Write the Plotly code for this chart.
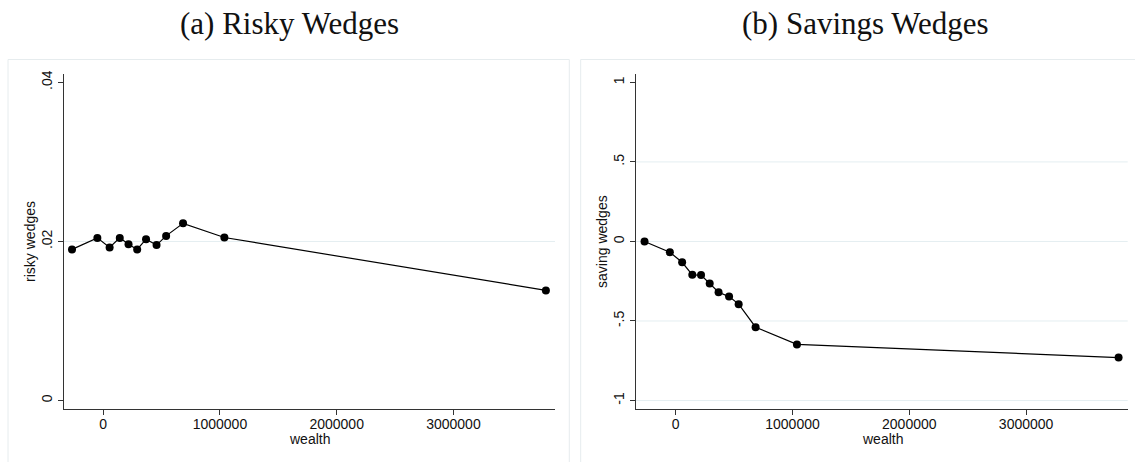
import plotly.graph_objects as go

# ---- data ----
wealth = [-267000, -50000, 55000, 142000, 217000, 291000, 367000, 457000, 539000, 684000, 1038000, 3792000]
risky_wedges = [0.0190, 0.02045, 0.01925, 0.02045, 0.01966, 0.0190, 0.02029, 0.01954, 0.0207, 0.02228, 0.0205, 0.01385]
saving_wedges = [0.0, -0.068, -0.131, -0.2095, -0.2116, -0.2635, -0.3195, -0.3465, -0.394, -0.539, -0.647, -0.730]

x_ticks = [0, 1000000, 2000000, 3000000]
x_ticklabels = ["0", "1000000", "2000000", "3000000"]
risky_ticks = [0, 0.02, 0.04]
risky_ticklabels = ["0", ".02", ".04"]
saving_ticks = [-1, -0.5, 0, 0.5, 1]
saving_ticklabels = ["-1", "-.5", "0", ".5", "1"]
risky_grid = [0.02]
saving_grid = [-1, -0.5, 0, 0.5]

titles = ["(a) Risky Wedges", "(b) Savings Wedges"]
ytitles = ["risky wedges", "saving wedges"]
xtitle = "wealth"

W, H = 1135, 462
def px(x):
    return x / W
def py(y):
    return 1 - y / H

fig = go.Figure()
fig.add_trace(go.Scatter(x=wealth, y=risky_wedges, mode="lines+markers",
                         line=dict(color="black", width=1.2),
                         marker=dict(color="black", size=8),
                         xaxis="x", yaxis="y", showlegend=False))
fig.add_trace(go.Scatter(x=wealth, y=saving_wedges, mode="lines+markers",
                         line=dict(color="black", width=1.2),
                         marker=dict(color="black", size=8),
                         xaxis="x2", yaxis="y2", showlegend=False))

tickfont = dict(family="Liberation Sans, Arial, sans-serif", size=14, color="#111")
axis_common = dict(showline=True, linecolor="#333", linewidth=1, ticks="outside",
                   ticklen=5, tickwidth=1, tickcolor="#333", showgrid=False,
                   zeroline=False, tickfont=tickfont)

x_range = [-340000, 3870000]
fig.update_layout(
    width=W, height=H, margin=dict(l=0, r=0, t=0, b=0),
    paper_bgcolor="white", plot_bgcolor="white",
    xaxis=dict(domain=[px(63.5), px(555)], range=x_range, tickvals=x_ticks,
               ticktext=x_ticklabels, anchor="y", ticklabelstandoff=-3, **axis_common),
    yaxis=dict(domain=[py(409), py(70.7)], range=[-0.00112, 0.04104], tickvals=risky_ticks,
               ticktext=risky_ticklabels, tickangle=-90, anchor="x", **axis_common),
    xaxis2=dict(domain=[px(636), px(1127.7)], range=x_range, tickvals=x_ticks,
                ticktext=x_ticklabels, anchor="y2", ticklabelstandoff=-3, **axis_common),
    yaxis2=dict(domain=[py(409), py(70.7)], range=[-1.056, 1.052], tickvals=saving_ticks,
                ticktext=saving_ticklabels, tickangle=-90, anchor="x2", **axis_common),
)

shapes = []
# panel frames
frame_col = "#E6ECEE"
shapes.append(dict(type="rect", xref="paper", yref="paper", x0=px(8), x1=px(569.3),
                   y0=py(470), y1=py(56), line=dict(color=frame_col, width=1), layer="below"))
shapes.append(dict(type="rect", xref="paper", yref="paper", x0=px(580.7), x1=px(1145),
                   y0=py(470), y1=py(56), line=dict(color=frame_col, width=1), layer="below"))
grid_col = "#E4EEF1"
for g in risky_grid:
    shapes.append(dict(type="line", xref="x domain", yref="y", x0=0, x1=1, y0=g, y1=g,
                       line=dict(color=grid_col, width=1), layer="below"))
for g in saving_grid:
    shapes.append(dict(type="line", xref="x2 domain", yref="y2", x0=0, x1=1, y0=g, y1=g,
                       line=dict(color=grid_col, width=1), layer="below"))
fig.update_layout(shapes=shapes)

ann = []
title_font = dict(family="Liberation Serif, Times New Roman, serif", size=31, color="#111")
ann.append(dict(text=titles[0], x=px(289), y=py(20), xref="paper", yref="paper",
                showarrow=False, font=title_font, xanchor="center", yanchor="middle"))
ann.append(dict(text=titles[1], x=px(865), y=py(20), xref="paper", yref="paper",
                showarrow=False, font=title_font, xanchor="center", yanchor="middle"))
lab_font = dict(family="Liberation Sans, Arial, sans-serif", size=14, color="#111")
ann.append(dict(text=ytitles[0], x=px(30), y=py(240), xref="paper", yref="paper", textangle=-90,
                showarrow=False, font=lab_font, xanchor="center", yanchor="middle"))
ann.append(dict(text=ytitles[1], x=px(602), y=py(240), xref="paper", yref="paper", textangle=-90,
                showarrow=False, font=lab_font, xanchor="center", yanchor="middle"))
ann.append(dict(text=xtitle, x=px(309.3), y=py(439), xref="paper", yref="paper",
                showarrow=False, font=lab_font, xanchor="center", yanchor="middle"))
ann.append(dict(text=xtitle, x=px(882), y=py(439), xref="paper", yref="paper",
                showarrow=False, font=lab_font, xanchor="center", yanchor="middle"))
fig.update_layout(annotations=ann)

fig.write_html("out.html")
